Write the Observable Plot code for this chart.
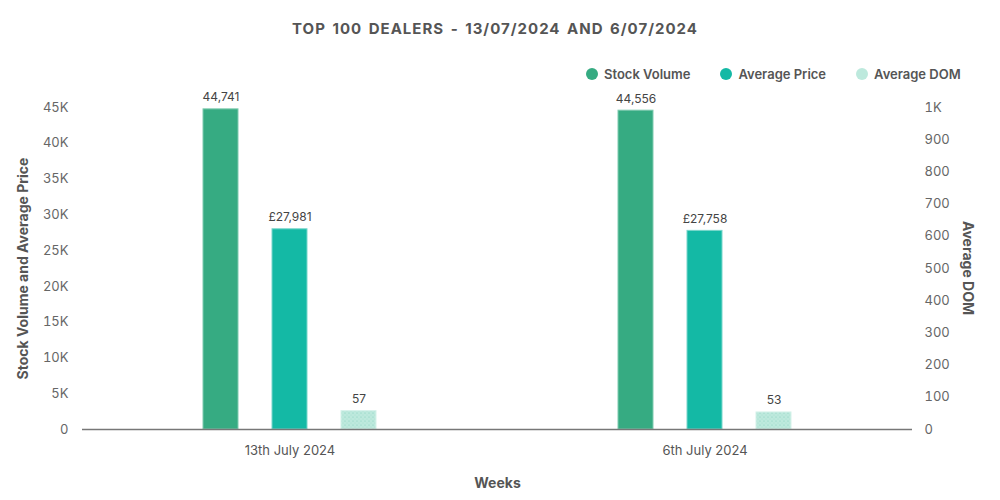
<!DOCTYPE html>
<html>
<head>
<meta charset="utf-8">
<script src="https://cdn.jsdelivr.net/npm/d3@7"></script>
<script src="https://cdn.jsdelivr.net/npm/@observablehq/plot@0.6"></script>
<style>
  html, body { margin: 0; padding: 0; background: #fff; }
  body { width: 1000px; height: 500px; overflow: hidden; font-family: Inter, "Noto Sans", sans-serif; }
  #header { position: relative; height: 88px; }
  #title { position: absolute; left: 0; width: 990px; top: 19px; text-align: center; font-size: 15px; font-weight: 700; color: #555; letter-spacing: 1px; word-spacing: 2px; }
  #legend { position: absolute; top: 66px; left: 586px; display: flex; font-size: 13px; font-weight: 600; color: #555; }
  .item { display: flex; align-items: center; margin-right: 30px; }
  .sw { width: 12px; height: 12px; border-radius: 50%; margin-right: 6px; }
</style>
</head>
<body>
<div id="header">
  <div id="title">TOP 100 DEALERS -  13/07/2024 AND 6/07/2024</div>
  <div id="legend"></div>
</div>
<div id="chart"></div>
<script>
const weeks = ["13th July 2024", "6th July 2024"];
const series = ["Stock Volume", "Average Price", "Average DOM"];
const stockVolume = [44741, 44556];
const averagePrice = [27981, 27758];
const averageDOM = [57, 53];
const leftTicks = [0, 5000, 10000, 15000, 20000, 25000, 30000, 35000, 40000, 45000];
const rightTicks = [0, 100, 200, 300, 400, 500, 600, 700, 800, 900, 1000];
const colors = ["#36ab82", "#14b9a5", "url(#dots)"];
const legendColors = ["#36ab82", "#14b9a5", "#bde9dd"];
const strokes = ["#7fcbb0", "#79d6cb", "#d6f2ea"];

// DOM (right axis 0–1000) is drawn on the left scale 0–45000
const ratio = 45000 / 1000;

const data = [];
weeks.forEach((w, i) => {
  data.push({week: w, series: series[0], value: stockVolume[i], label: d3.format(",")(stockVolume[i])});
  data.push({week: w, series: series[1], value: averagePrice[i], label: "£" + d3.format(",")(averagePrice[i])});
  data.push({week: w, series: series[2], value: averageDOM[i], label: String(averageDOM[i])});
});
const yv = d => d.series === "Average DOM" ? d.value * ratio : d.value;

const legend = document.getElementById("legend");
series.forEach((s, i) => {
  const it = document.createElement("div");
  it.className = "item";
  it.innerHTML = `<span class="sw" style="background:${legendColors[i]}"></span>${s}`;
  legend.appendChild(it);
});

const chart = Plot.plot({
  width: 1000,
  height: 412,
  marginTop: 19,
  marginBottom: 71,
  marginLeft: 82,
  marginRight: 88,
  style: {fontFamily: "Inter, 'Noto Sans', sans-serif", fontSize: "13px", color: "#666"},
  fx: {domain: weeks, padding: 0, label: null},
  x: {domain: series, paddingInner: 0.5, paddingOuter: 1.757, axis: null},
  y: {domain: [0, 45000]},
  color: {domain: series, range: colors},
  marks: [
    Plot.gridY(leftTicks, {stroke: "#e6e6e6", strokeOpacity: 1, x1: -9}),
    Plot.axisY(leftTicks, {anchor: "left", tickSize: 0, tickPadding: 14, fontSize: 13, fill: "#666",
      tickFormat: d => d === 0 ? "0" : (d / 1000) + "K",
      label: "Stock Volume and Average Price", labelAnchor: "center", labelArrow: "none", labelOffset: 64}),
    Plot.axisY(rightTicks.map(v => v * ratio), {anchor: "right", tickSize: 0, tickPadding: 12, fontSize: 13, fill: "#666",
      tickFormat: d => { const v = Math.round(d / ratio); return v === 1000 ? "1K" : String(v); },
      label: null}),
    Plot.axisFx({anchor: "bottom", tickSize: 0, tickPadding: 16, fontSize: 13, fill: "#555", label: "Weeks", labelAnchor: "center", labelArrow: "none", labelOffset: 58}),
    Plot.barY(data, {fx: "week", x: "series", y: yv, fill: d => colors[series.indexOf(d.series)], stroke: d => strokes[series.indexOf(d.series)], strokeWidth: 1}),
    Plot.ruleY([0], {stroke: "#777", strokeWidth: 1.5}),
    Plot.text(data, {fx: "week", x: "series", y: yv, text: "label", dy: -12, fontSize: 12, fill: "#444"})
  ]
});
document.getElementById("chart").appendChild(chart);

const svgNS = "http://www.w3.org/2000/svg";
// dotted pattern for Average DOM bars
const defs = document.createElementNS(svgNS, "defs");
defs.innerHTML = `<pattern id="dots" width="4" height="4" patternUnits="userSpaceOnUse">
  <rect width="4" height="4" fill="#bde9dd"></rect>
  <circle cx="1" cy="1" r="0.6" fill="#86cfbd"></circle>
  <circle cx="3" cy="3" r="0.5" fill="#a2dccd"></circle>
</pattern>`;
chart.insertBefore(defs, chart.firstChild);

// axis titles bold
chart.querySelectorAll("text").forEach(t => {
  const s = t.textContent.trim();
  if (s === "Stock Volume and Average Price" || s === "Weeks") {
    t.setAttribute("font-weight", "bold");
    t.setAttribute("font-size", "14");
    t.setAttribute("fill", "#555");
  }
});
// right axis title, reading top-to-bottom
const rt = document.createElementNS(svgNS, "text");
rt.textContent = "Average DOM";
rt.setAttribute("transform", "translate(963,180) rotate(90)");
rt.setAttribute("text-anchor", "middle");
rt.setAttribute("font-weight", "bold");
rt.setAttribute("font-size", "14");
rt.setAttribute("fill", "#555");
rt.setAttribute("font-family", "Inter, 'Noto Sans', sans-serif");
chart.appendChild(rt);
</script>
</body>
</html>
